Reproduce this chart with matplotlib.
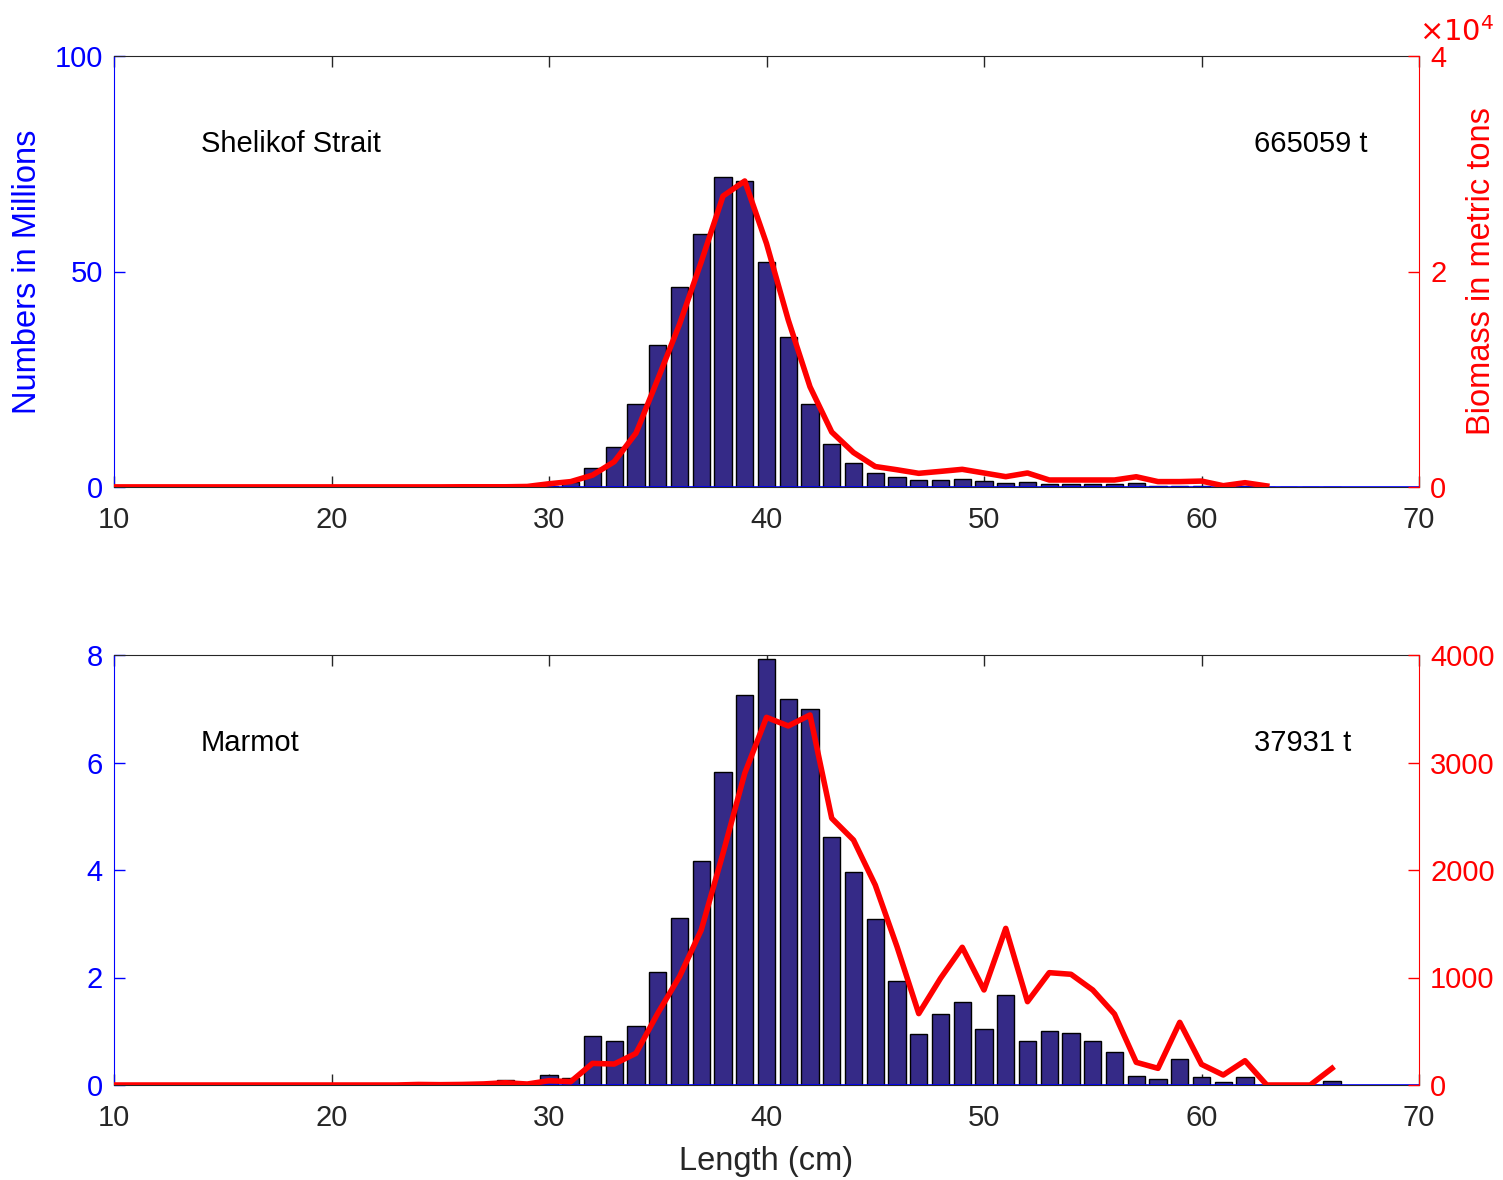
import numpy as np
import matplotlib
matplotlib.use('Agg')
import matplotlib.pyplot as plt

plt.rcParams['font.family'] = ['Liberation Sans', 'DejaVu Sans']

# length classes (cm)
length = list(range(10, 67))

# Shelikof Strait: numbers (millions) per length class 10..66
shelikof_num = [0, 0, 0, 0, 0, 0, 0, 0, 0, 0,
                0, 0, 0, 0, 0, 0, 0, 0, 0, 0,
                0.3, 1.2, 4.4, 9.3, 19.3, 32.9, 46.4, 58.7, 71.9, 71.0,
                52.2, 34.8, 19.3, 10.0, 5.6, 3.2, 2.4, 1.6, 1.6, 1.9,
                1.5, 1.0, 1.2, 0.7, 0.7, 0.7, 0.6, 1.0, 0.3, 0.3,
                0.3, 0.1, 0.2, 0.05, 0, 0, 0]
# Shelikof Strait: biomass (x1e4 t) per length class 10..63
shelikof_len_bio = list(range(10, 64))
shelikof_bio = [0.001, 0.001, 0.001, 0.001, 0.001, 0.001, 0.001, 0.001, 0.001, 0.001,
                0.001, 0.001, 0.001, 0.001, 0.001, 0.001, 0.002, 0.002, 0.002, 0.005,
                0.03, 0.05, 0.11, 0.235, 0.50, 1.0, 1.51, 2.09, 2.70, 2.84,
                2.26, 1.55, 0.93, 0.51, 0.32, 0.19, 0.16, 0.127, 0.145, 0.164,
                0.13, 0.096, 0.13, 0.065, 0.065, 0.065, 0.065, 0.095, 0.05, 0.05,
                0.055, 0.012, 0.04, 0.01]

# Marmot: numbers (millions) per length class 10..66
marmot_num = [0, 0, 0, 0, 0, 0, 0, 0, 0, 0,
              0, 0, 0, 0, 0, 0, 0, 0, 0.09, 0.02,
              0.19, 0.13, 0.92, 0.81, 1.10, 2.10, 3.11, 4.16, 5.82, 7.26,
              7.93, 7.19, 7.00, 4.61, 3.96, 3.08, 1.93, 0.95, 1.32, 1.55,
              1.04, 1.68, 0.81, 1.00, 0.96, 0.82, 0.61, 0.17, 0.12, 0.48,
              0.15, 0.06, 0.15, 0, 0, 0, 0.08]
# Marmot: biomass (t) per length class 10..66
marmot_bio = [0, 0, 0, 0, 0, 0, 0, 0, 0, 0,
              0, 0, 0, 0, 5, 3, 5, 10, 21, 9,
              40, 31, 201, 195, 295, 667, 1008, 1442, 2155, 2900,
              3420, 3340, 3442, 2481, 2279, 1860, 1287, 664, 992, 1281,
              884, 1457, 775, 1045, 1030, 884, 660, 211, 155, 583,
              192, 93, 226, 0, 0, 0, 155]

bar_color = '#352A87'
blue = '#0000FF'
red = '#FF0000'
fs = 21
lfs = 23.5

fig = plt.figure(figsize=(15.03, 11.8), dpi=100)
W, H = 1503, 1180


def make_panel(rect, nums, blens, bios, ymax, yticks, rmax, rticks, name, total):
    ax = fig.add_axes(rect)
    ax.bar(length, nums, width=0.8, color=bar_color, edgecolor='black', linewidth=1.0, zorder=2)
    ax.axhline(0, color=blue, lw=1.2, zorder=3)
    ax.set_xlim(10, 70)
    ax.set_ylim(0, ymax)
    ax.set_xticks(range(10, 71, 10))
    ax.set_yticks(yticks)
    ax.tick_params(axis='x', direction='in', top=True, length=8, width=1,
                   colors='#262626', labelsize=fs, pad=14)
    ax.tick_params(axis='y', direction='in', length=8, width=1,
                   colors=blue, labelsize=fs, pad=8)
    ax.spines['left'].set_color(blue)
    ax.spines['right'].set_visible(False)
    ax.spines['top'].set_color('#262626')
    ax.spines['bottom'].set_color('#262626')
    ax.text(14.0, ymax * 0.795, name, fontsize=fs, va='center', ha='left')
    ax.text(62.4, ymax * 0.795, total, fontsize=fs, va='center', ha='left')

    ax2 = ax.twinx()
    ax2.plot(blens, bios, color=red, lw=4, zorder=4)
    ax2.set_ylim(0, rmax)
    ax2.set_yticks(rticks)
    ax2.tick_params(axis='y', direction='in', length=8, width=1,
                    colors=red, labelsize=fs, pad=8)
    ax2.spines['right'].set_color(red)
    for s in ('left', 'top', 'bottom'):
        ax2.spines[s].set_visible(False)
    return ax, ax2


top_rect = [114 / W, 1 - 487 / H, (1419 - 114) / W, (487 - 56) / H]
bot_rect = [114 / W, 1 - 1085 / H, (1419 - 114) / W, (1085 - 655) / H]

ax1, ax1r = make_panel(top_rect, shelikof_num, shelikof_len_bio, shelikof_bio,
                       100, [0, 50, 100], 4, [0, 2, 4],
                       'Shelikof Strait', '665059 t')
ax1.set_ylabel('Numbers in Millions', color=blue, fontsize=lfs, labelpad=8)
ax1r.set_ylabel('Biomass in metric tons', color=red, fontsize=lfs, labelpad=14)
ax1r.text(1.0, 1.02, r'$\times10^4$', transform=ax1r.transAxes, color=red,
          fontsize=fs, ha='left', va='bottom')

ax2, ax2r = make_panel(bot_rect, marmot_num, length, marmot_bio,
                       8, [0, 2, 4, 6, 8], 4000, [0, 1000, 2000, 3000, 4000],
                       'Marmot', '37931 t')
ax2.set_xlabel('Length (cm)', fontsize=lfs, color='#262626', labelpad=10)

fig.savefig('out.png', dpi=100)
